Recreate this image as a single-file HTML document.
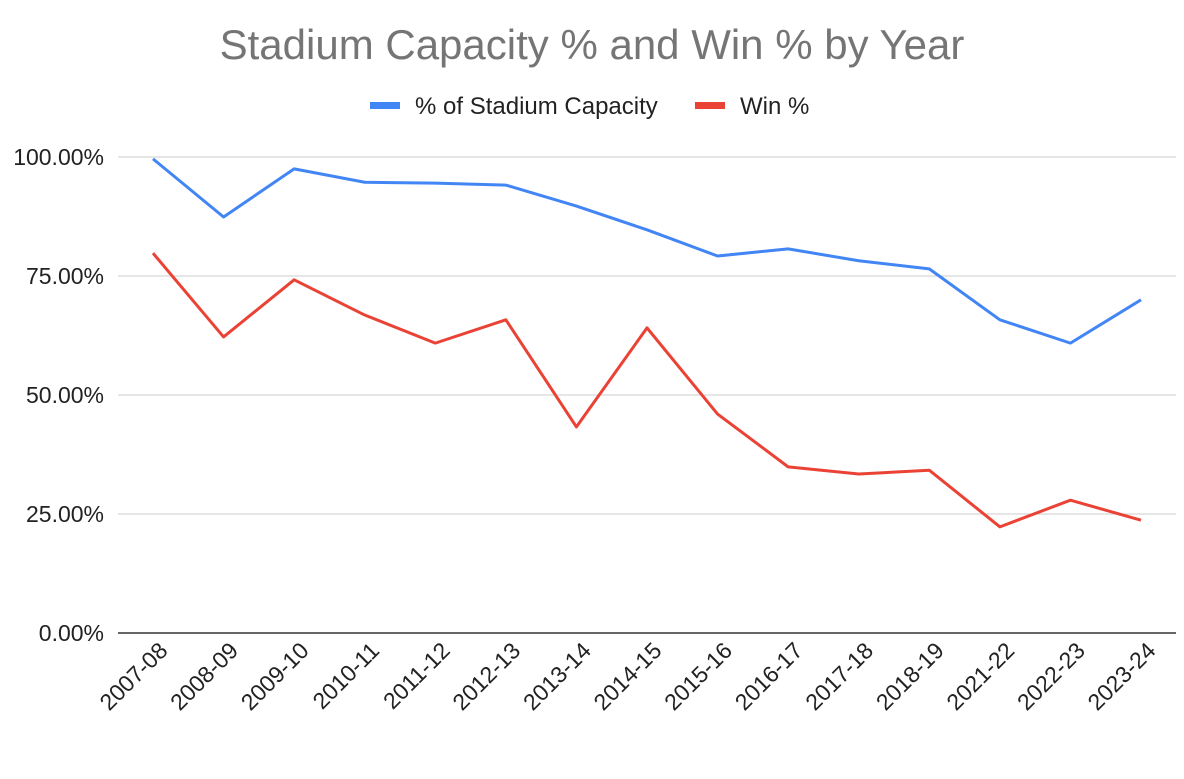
<!DOCTYPE html>
<html><head><meta charset="utf-8"><style>
body{margin:0;background:#fff;font-family:"Liberation Sans",sans-serif}
</style></head><body>
<svg id="c" width="1184" height="774" xmlns="http://www.w3.org/2000/svg">
<rect width="1184" height="774" fill="#fff"/>
<text x="592" y="59" text-anchor="middle" font-size="42" fill="#757575">Stadium Capacity % and Win % by Year</text>
<g>
<g><rect x="370" y="102" width="30" height="7" fill="#4285f4"/><text x="415" y="114" font-size="24" fill="#222">% of Stadium Capacity</text></g>
<g><rect x="695" y="102" width="30" height="7" fill="#ea4335"/><text x="740" y="114" font-size="24" fill="#222">Win %</text></g>
</g>
<g id="grid"></g><g id="xt"></g><g id="series"></g>
</svg>
<script>
const categories=["2007-08","2008-09","2009-10","2010-11","2011-12","2012-13","2013-14","2014-15","2015-16","2016-17","2017-18","2018-19","2021-22","2022-23","2023-24"];
const capacity=[99.6,87.4,97.5,94.7,94.5,94.1,89.7,84.7,79.2,80.7,78.2,76.5,65.8,60.9,70.0];
const winPct=[79.8,62.2,74.2,66.8,60.9,65.8,43.3,64.1,46.0,34.9,33.4,34.2,22.3,27.9,23.7];
const yTicks=[0,25,50,75,100];
const yTickLabels=["0.00%","25.00%","50.00%","75.00%","100.00%"];
const NS="http://www.w3.org/2000/svg";
const x=i=>153+i*(1141-153)/(categories.length-1);
const y=v=>633-v*(633-157)/100;
function mk(t,a,p){const e=document.createElementNS(NS,t);for(const k in a)e.setAttribute(k,a[k]);p.appendChild(e);return e;}
const g=document.getElementById('grid');
yTicks.forEach((v,i)=>{
 const l=mk('line',{x1:118,x2:1176,y1:y(v),y2:y(v),stroke:v===0?'#333':'#ccc','stroke-width':v===0?1.5:1},g);
 
 
 const t=mk('text',{x:104,y:y(v)+8,'text-anchor':'end','font-size':23,fill:'#222'},g);
 t.textContent=yTickLabels[i];
 
 
});
const xt=document.getElementById('xt');
categories.forEach((c,i)=>{
 const ax=x(i)+16, ay=652;
 const t=mk('text',{x:ax,y:ay,'text-anchor':'end','font-size':23,fill:'#222',transform:`rotate(-45 ${ax} ${ay})`},xt);
 t.textContent=c;
 
 
});
const s=document.getElementById('series');
[[capacity,'#4285f4','capacity-line'],[winPct,'#ea4335','win-line']].forEach(([d,col,n])=>{
 const p=mk('polyline',{points:d.map((v,i)=>x(i)+','+y(v)).join(' '),fill:'none',stroke:col,'stroke-width':3,'stroke-linejoin':'round'},s);
 
 
});
</script>
</body></html>
